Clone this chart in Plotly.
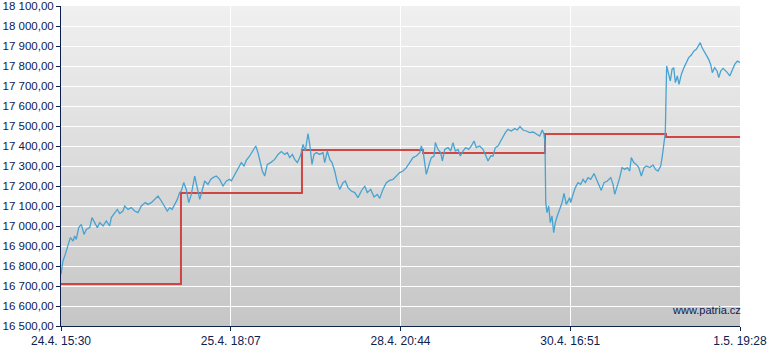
import plotly.graph_objects as go

# x tick labels
tick_pos = [0, 250, 500, 750, 1000]
tick_text = ["24.4. 15:30", "25.4. 18:07", "28.4. 20:44", "30.4. 16:51", "1.5. 19:28"]

# y tick values
y_ticks = [16500, 16600, 16700, 16800, 16900, 17000, 17100, 17200, 17300, 17400,
           17500, 17600, 17700, 17800, 17900, 18000, 18100]

# index price (blue)
blue_pos = [0, 2.9, 6.3, 10.3, 13.7, 17.7, 20.2, 22.5, 26.1, 29.9, 33.9, 37.3, 42.3, 45.7, 49.6, 53.5,
            57.0, 61.9, 66.7, 71.7, 74.1, 79.1, 82.9, 86.5, 91.3, 93.8, 98.7, 103.5, 108.5, 113.4,
            118.3, 124.2, 128.1, 133.0, 138.0, 142.9, 147.7, 152.7, 156.6, 160.1, 163.5, 167.5,
            171.3, 174.8, 177.2, 180.7, 184.5, 188.1, 191.9, 196.9, 200.7, 204.3, 207.7, 211.6,
            216.5, 220.5, 223.9, 228.7, 233.7, 238.6, 243.5, 248.5,
            250.8, 255.8, 260.7, 265.5, 269.5, 272.9, 277.9, 282.8, 286.8, 290.1, 293.5, 296.5,
            300.0, 303.8, 308.8, 314.7, 319.6, 324.5, 329.5, 333.3, 336.8, 340.7, 344.2, 348.0,
            351.6, 353.9, 356.4, 359.8, 363.8, 366.3, 369.7, 372.6, 376.0, 381.0, 385.9, 388.4,
            392.2, 395.8, 399.1, 403.1, 406.9, 410.5, 415.3, 418.7, 422.7, 427.5, 432.6, 437.4,
            442.3, 447.3, 451.1, 456.1, 461.0, 465.8, 469.4, 474.2, 479.1, 484.1, 489.0, 493.8,
            498.8, 503.7, 508.6, 513.6, 518.4, 523.3, 528.3, 530.6, 533.2, 535.6, 538.0, 541.5,
            545.4, 549.4, 551.3, 555.2, 559.2, 561.6, 565.1, 570.0, 573.9, 577.3, 580.7, 584.7,
            588.1, 592.1, 596.0, 600.5, 604.3, 608.3, 611.6, 616.6, 621.5, 624.9, 628.9, 632.9,
            636.2, 639.6, 643.6, 647.6, 651.0, 654.4, 658.3, 663.2, 668.2, 672.0, 676.0, 680.4,
            685.3, 690.3, 695.2, 700.0, 705.0, 708.9, 711.4, 712.8, 713.9, 715.8, 718.3, 720.6,
            723.1, 725.6, 728.0, 730.9, 734.5, 737.9, 740.8, 744.2, 749.2, 750.7, 754.1, 757.5,
            761.4, 765.4, 768.8, 772.2, 776.2, 780.1, 785.0, 788.4, 791.9, 795.7, 799.7, 804.6,
            809.6, 813.0, 815.5, 819.3, 822.9, 826.2, 830.2, 834.0, 837.6, 839.9, 843.5, 847.3,
            850.9, 854.7, 858.7, 862.1, 867.1, 871.9, 875.3, 879.3, 883.2, 885.6, 888.1, 890.0,
            891.0, 892.0, 895.0, 897.4, 899.9, 902.4, 904.8, 907.7, 910.2, 913.6, 917.5, 920.9,
            924.4, 928.3, 932.3, 935.7, 939.2, 941.5, 944.0, 947.0, 950.3, 953.9, 956.8, 959.2,
            962.7, 966.2, 968.7, 971.6, 975.1, 978.4, 981.4, 984.9, 988.3, 992.2, 996.1, 1000]
blue_val = [16758, 16825, 16858, 16900, 16942, 16925, 16950, 16933, 16992, 17008, 16958, 16983, 16992, 17042, 17017, 16992,
            17017, 17000, 17025, 17000, 17042, 17067, 17083, 17062, 17075, 17100, 17083, 17092, 17075, 17067,
            17100, 17117, 17108, 17117, 17133, 17150, 17125, 17100, 17075, 17092, 17083, 17108,
            17133, 17167, 17175, 17217, 17183, 17117, 17158, 17250, 17183, 17133, 17175, 17225,
            17208, 17233, 17242, 17250, 17233, 17200, 17225, 17233,
            17225, 17258, 17283, 17317, 17300, 17328, 17350, 17375, 17400, 17367, 17308, 17275,
            17250, 17308, 17317, 17333, 17358, 17372, 17358, 17367, 17342, 17358, 17333, 17317,
            17342, 17367, 17408, 17375, 17462, 17408, 17308, 17358, 17367, 17358, 17367, 17317,
            17375, 17333, 17317, 17275, 17217, 17183, 17217, 17225, 17192, 17175, 17167, 17142,
            17175, 17200, 17167, 17183, 17145, 17158, 17138, 17183, 17217, 17228, 17233, 17250,
            17267, 17275, 17292, 17317, 17342, 17350, 17367, 17400, 17375, 17317, 17258, 17300,
            17342, 17350, 17417, 17383, 17367, 17325, 17383, 17392, 17375, 17417, 17375, 17383,
            17350, 17375, 17392, 17383, 17400, 17425, 17392, 17400, 17383, 17358, 17325, 17350,
            17350, 17392, 17400, 17425, 17450, 17467, 17483, 17475, 17487, 17480, 17497, 17480,
            17475, 17467, 17470, 17458, 17450, 17480, 17458, 17417, 17117, 17067, 17100, 17017,
            17050, 16967, 17017, 17050, 17083, 17117, 17163, 17108, 17142, 17117, 17158, 17192,
            17217, 17208, 17233, 17217, 17242, 17233, 17262, 17233, 17208, 17178, 17217, 17225,
            17242, 17208, 17158, 17200, 17242, 17292, 17283, 17292, 17275, 17342, 17317, 17308,
            17292, 17250, 17292, 17300, 17292, 17305, 17283, 17275, 17300, 17350, 17417, 17467,
            17642, 17800, 17758, 17725, 17783, 17792, 17717, 17750, 17708, 17758, 17792, 17817,
            17842, 17855, 17875, 17883, 17900, 17917, 17892, 17875, 17858, 17833, 17808, 17767,
            17792, 17775, 17742, 17775, 17788, 17778, 17767, 17750, 17775, 17808, 17825, 17817]

# reference level (red step line)
step_pos = [0, 176.7, 354.9, 533.2, 712.8, 891.0, 1000]
step_val = [16710, 17165, 17380, 17365, 17460, 17445, 17445]

Y_MIN, Y_MAX = 16500, 18100
NAVY = "#0d2150"

fig = go.Figure()

# gradient background bands (below gridlines)
n_bands = 64
top_c, bot_c = 240, 198
for i in range(n_bands):
    f0 = i / n_bands
    f1 = (i + 1) / n_bands
    c = round(bot_c + (top_c - bot_c) * (f0 + f1) / 2)
    fig.add_shape(type="rect", xref="paper", yref="paper", x0=0, x1=1, y0=f0, y1=f1,
                  fillcolor=f"rgb({c},{c},{c})", line=dict(width=0), layer="below")

fig.add_trace(go.Scatter(x=step_pos, y=step_val, mode="lines", line_shape="hv",
                         line=dict(color="rgba(208,52,52,0.9)", width=2), hoverinfo="skip"))
fig.add_trace(go.Scatter(x=blue_pos, y=blue_val, mode="lines",
                         line=dict(color="#47a3d1", width=1.3), hoverinfo="skip"))

fig.add_annotation(text="www.patria.cz", xref="paper", yref="paper", x=1.004, y=0.05,
                   xanchor="right", yanchor="middle", showarrow=False,
                   font=dict(family="Liberation Sans, Arial", size=11, color=NAVY))

fig.update_layout(
    width=780, height=350,
    margin=dict(l=61, r=40, t=6, b=24, autoexpand=False),
    paper_bgcolor="white", plot_bgcolor="#dcdcdc",
    showlegend=False,
    separators=", ",
    font=dict(family="Liberation Sans, Arial", size=12, color=NAVY),
)
fig.update_xaxes(range=[0, 1000], tickvals=tick_pos, ticktext=tick_text, automargin=False,
                 showgrid=True, gridcolor="white", gridwidth=1,
                 showline=True, linecolor=NAVY, linewidth=1,
                 ticks="outside", ticklen=4, tickcolor=NAVY,
                 tickfont=dict(size=12, color=NAVY), zeroline=False, fixedrange=True)
fig.update_yaxes(range=[Y_MIN, Y_MAX], tickmode="array", tickvals=y_ticks, tickformat=",.2f",
                 automargin=False, ticklabeloverflow="allow",
                 showgrid=True, gridcolor="white", gridwidth=1,
                 showline=True, linecolor=NAVY, linewidth=1,
                 ticks="outside", ticklen=4, tickcolor=NAVY,
                 tickfont=dict(size=11.5, color=NAVY), zeroline=False, fixedrange=True)

fig.write_html("out.html", config={"displayModeBar": False},
               post_script="document.body.style.margin='0';document.body.style.overflow='hidden';")
